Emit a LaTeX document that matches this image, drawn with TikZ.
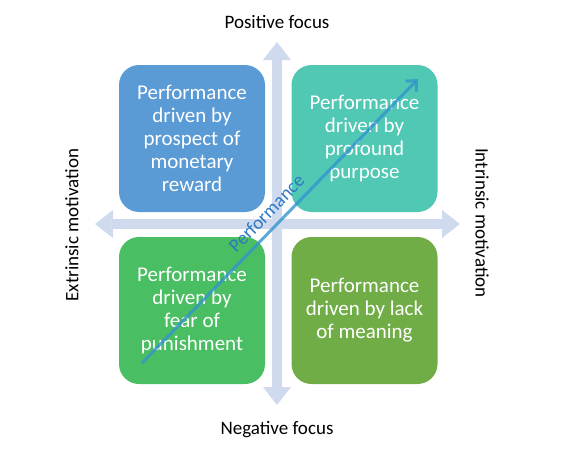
\documentclass[tikz,border=0pt]{standalone}
\usepackage{fontspec}
\setmainfont{Carlito}
\usetikzlibrary{arrows.meta}
\definecolor{axisblue}{RGB}{207,218,238}
\definecolor{quadblue}{RGB}{91,155,213}
\definecolor{quadteal}{RGB}{80,200,180}
\definecolor{quadgreen}{RGB}{74,190,98}
\definecolor{quadolive}{RGB}{112,173,71}
\definecolor{perfline}{RGB}{52,148,205}
\definecolor{perftext}{RGB}{46,120,195}

\begin{document}
\begin{tikzpicture}[x=1pt, y=-1pt,
    axis/.style={line width=10pt, axisblue, {Triangle[length=18pt,width=28pt,line width=0pt]}-{Triangle[length=18pt,width=28pt,line width=0pt]}},
    quad/.style={rounded corners=20pt, minimum width=146pt, minimum height=147pt, inner sep=0pt, text=white, align=center, font=\fontsize{21}{23}\selectfont},
    lbl/.style={font=\fontsize{19}{23}\selectfont, inner sep=0pt}]
  \useasboundingbox (0,0) rectangle (568,455);
  \coordinate (axleft) at (95,224);
  \coordinate (axright) at (460,224);
  \coordinate (axtop) at (277,42);
  \coordinate (axbottom) at (277,405);
  \draw[axis] (axleft) -- (axright);
  \draw[axis] (axtop) -- (axbottom);

  \node[quad, fill=quadblue] (extpos) at (192,138.5) {Performance\\driven by\\prospect of\\monetary\\reward};
  \node[quad, fill=quadteal] (intpos) at (364.5,138.5) {Performance\\driven by\\profound\\purpose};
  \node[quad, fill=quadgreen] (extneg) at (192,310.5) {Performance\\driven by\\fear of\\punishment};
  \node[quad, fill=quadolive] (intneg) at (364.5,310.5) {Performance\\driven by lack\\of meaning};

  \coordinate (perfstart) at (142,363);
  \coordinate (perfend) at (418,79);
  \draw[line width=3pt, perfline, opacity=0.8, -{Straight Barb[length=8pt,width=15pt]}] (perfstart) -- node[lbl, pos=0.49, sloped, above=7pt, text=perftext, text opacity=1] (perflbl) {Performance} (perfend);

  \node[lbl, anchor=base] (posfocus) at (277,28) {Positive focus};
  \node[lbl, anchor=base] (negfocus) at (277,434) {Negative focus};
  \node[lbl, rotate=90] (extmot) at (72,225) {Extrinsic motivation};
  \node[lbl, rotate=-90] (intmot) at (482,223) {Intrinsic motivation};
\end{tikzpicture}
\end{document}
